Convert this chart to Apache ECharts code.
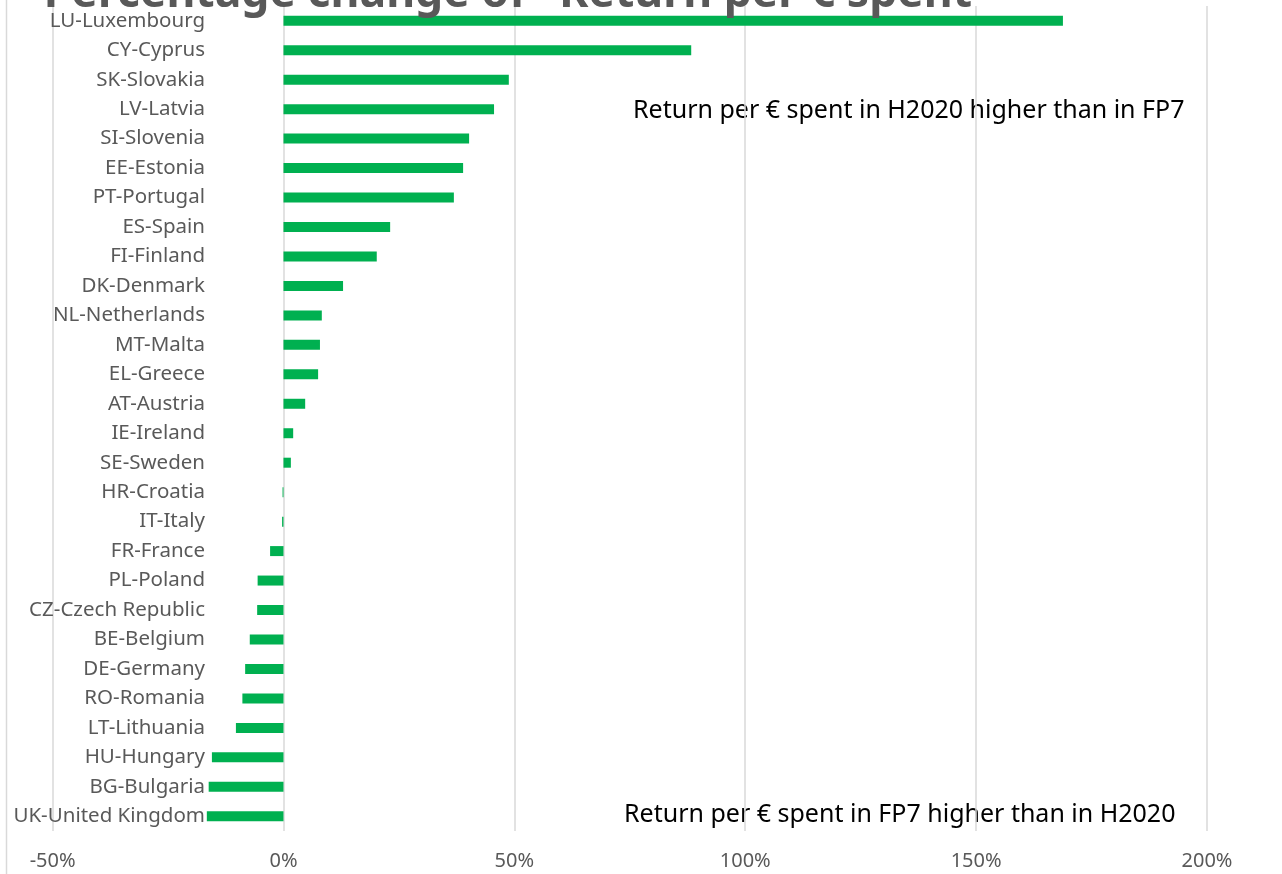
<!DOCTYPE html>
<html>
<head>
<meta charset="utf-8">
<script src="https://cdn.jsdelivr.net/npm/echarts@6/dist/echarts.min.js"></script>
<style>
  html, body { margin: 0; padding: 0; background: #fff; }
  #chart { width: 1282px; height: 874px; }
</style>
</head>
<body>
<div id="chart"></div>
<script>
// 国家（从上到下）
var countries = ['LU-Luxembourg', 'CY-Cyprus', 'SK-Slovakia', 'LV-Latvia', 'SI-Slovenia', 'EE-Estonia',
    'PT-Portugal', 'ES-Spain', 'FI-Finland', 'DK-Denmark', 'NL-Netherlands', 'MT-Malta', 'EL-Greece',
    'AT-Austria', 'IE-Ireland', 'SE-Sweden', 'HR-Croatia', 'IT-Italy', 'FR-France', 'PL-Poland',
    'CZ-Czech Republic', 'BE-Belgium', 'DE-Germany', 'RO-Romania', 'LT-Lithuania', 'HU-Hungary',
    'BG-Bulgaria', 'UK-United Kingdom'];

// 百分比变化 (%)
var changes = [168.8, 88.3, 48.8, 45.6, 40.2, 38.9,
    36.9, 23.1, 20.2, 12.9, 8.3, 7.9, 7.5,
    4.7, 2.1, 1.6, -0.2, -0.3, -2.9, -5.6,
    -5.7, -7.3, -8.3, -8.9, -10.3, -15.5,
    -16.2, -16.6];

// x轴刻度
var xTicks = [-50, 0, 50, 100, 150, 200];

var titleText = 'Percentage change of "Return per € spent"';
var noteUp = 'Return per € spent in H2020 higher than in FP7';
var noteDown = 'Return per € spent in FP7 higher than in H2020';

var myChart = echarts.init(document.getElementById('chart'));

var font = 'Noto Sans';

option = {
    animation: false,
    title: {
        text: titleText,
        left: 514,
        textAlign: 'center',
        top: -33,
        textStyle: {
            fontFamily: font,
            fontSize: 44.5,
            fontWeight: 'bold',
            color: '#595959'
        }
    },
    grid: {
        left: 52.6,
        right: 75,
        top: 6,
        bottom: 43
    },
    xAxis: {
        type: 'value',
        min: xTicks[0],
        max: xTicks[xTicks.length - 1],
        interval: 50,
        axisLine: { show: false },
        axisTick: { show: false },
        splitLine: { lineStyle: { color: '#d9d9d9', width: 1.5 } },
        axisLabel: {
            margin: 20,
            fontFamily: font,
            fontSize: 20,
            color: '#595959',
            formatter: '{value}%'
        }
    },
    yAxis: {
        type: 'category',
        inverse: true,
        data: countries,
        axisLine: { show: false },
        axisTick: { show: false },
        axisLabel: {
            margin: -152.4,
            fontFamily: font,
            fontSize: 20.5,
            color: '#595959'
        }
    },
    series: [
        {
            type: 'bar',
            barWidth: 10,
            itemStyle: { color: '#00b050' },
            data: changes
        }
    ],
    graphic: [
        {
            type: 'line',
            shape: { x1: 6.5, y1: 0, x2: 6.5, y2: 874 },
            style: { stroke: '#d9d9d9', lineWidth: 1.5 }
        },
        {
            type: 'text',
            left: 633,
            top: 98,
            style: { text: noteUp, font: '25px "Noto Sans"', fill: '#000' }
        },
        {
            type: 'text',
            left: 624,
            top: 802,
            style: { text: noteDown, font: '25px "Noto Sans"', fill: '#000' }
        }
    ]
};

myChart.setOption(option);
</script>
</body>
</html>
